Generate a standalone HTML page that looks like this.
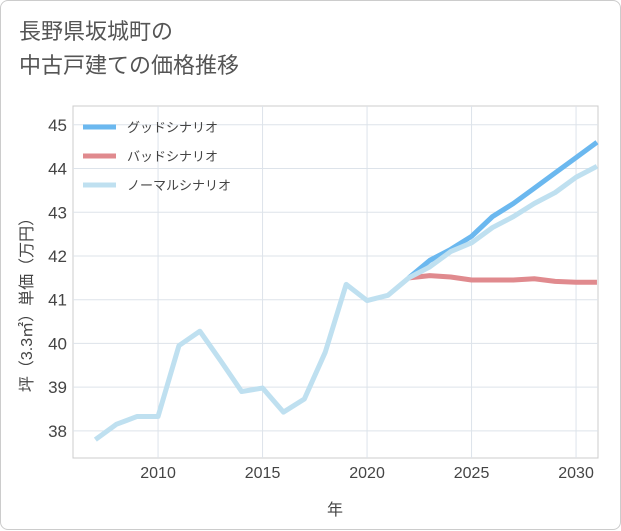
<!DOCTYPE html>
<html><head><meta charset="utf-8"><style>
body{margin:0;background:#fff;font-family:"Liberation Sans","Noto Sans CJK JP",sans-serif}
.wrap{position:absolute;left:0;top:0;width:619px;height:528px;border:1px solid #ccc;border-radius:8px;background:#fff}
.title{position:absolute;left:18px;top:14px;font-size:22px;line-height:34px;color:#555}
</style></head><body>
<div class="wrap">
<div class="title">長野県坂城町の<br>中古戸建ての価格推移</div>
<svg id="chart" width="621" height="530" style="position:absolute;left:0;top:0"></svg>
</div>
<script>
const years=[2007,2008,2009,2010,2011,2012,2013,2014,2015,2016,2017,2018,2019,2020,2021,2022,2023,2024,2025,2026,2027,2028,2029,2030,2031];
const normal=[37.8,38.15,38.33,38.33,39.95,40.28,39.6,38.9,38.98,38.43,38.73,39.8,41.35,40.98,41.1,41.5,41.75,42.1,42.3,42.65,42.9,43.2,43.45,43.8,44.05];
const fYears=[2022,2023,2024,2025,2026,2027,2028,2029,2030,2031];
const good=[41.5,41.9,42.15,42.45,42.9,43.2,43.55,43.9,44.25,44.6];
const bad=[41.5,41.55,41.52,41.45,41.45,41.45,41.48,41.42,41.4,41.4];
const yTicks=[38,39,40,41,42,43,44,45];
const xTicks=[2010,2015,2020,2025,2030];
const L=72,R=597,T=105,B=457,x0=2005.93,x1=2031.05,y0=37.38,y1=45.43;
const X=v=>L+(v-x0)/(x1-x0)*(R-L), Y=v=>B-(v-y0)/(y1-y0)*(B-T);
const svg=document.getElementById('chart');const NS='http://www.w3.org/2000/svg';
function mk(t,a,txt){const e=document.createElementNS(NS,t);for(const k in a)e.setAttribute(k,a[k]);if(txt!=null)e.textContent=txt;svg.appendChild(e);return e;}
let e=mk('rect',{x:L,y:T,width:R-L,height:B-T,fill:'none',stroke:'#ccc'});


yTicks.forEach(v=>{let g=mk('line',{x1:L,x2:R,y1:Y(v),y2:Y(v),stroke:'#dde3ea'});


let t=mk('text',{x:L-6,y:Y(v)+6,'text-anchor':'end','font-size':17,fill:'#444'},v);

});
xTicks.forEach(v=>{let g=mk('line',{x1:X(v),x2:X(v),y1:T,y2:B,stroke:'#dde3ea'});


let t=mk('text',{x:X(v),y:B+20,'text-anchor':'middle','font-size':16,fill:'#444'},v);

});
function line(xs,ys,c,n){let p=mk('polyline',{points:xs.map((v,i)=>X(v)+','+Y(ys[i])).join(' '),fill:'none',stroke:c,'stroke-width':5,'stroke-linejoin':'round'});

}
line(fYears,good,'#6bb8ef','good-scenario-line');
line(fYears,bad,'#e08a8e','bad-scenario-line');
line(years,normal,'#bfe0f0','normal-scenario-line');
[['グッドシナリオ','#6bb8ef',126],['バッドシナリオ','#e08a8e',155],['ノーマルシナリオ','#bfe0f0',184]].forEach(d=>{
let l=mk('line',{x1:82,x2:115,y1:d[2],y2:d[2],stroke:d[1],'stroke-width':5});


let t=mk('text',{x:126,y:d[2]+5,'font-size':13,fill:'#444'},d[0]);

});
let xt=mk('text',{x:334,y:514,'text-anchor':'middle','font-size':16,fill:'#444'},'年');


let yt=mk('text',{x:0,y:0,'text-anchor':'middle','font-size':16,fill:'#444',transform:'translate(31,300) rotate(-90)'},'坪（3.3㎡）単価（万円）');


</script>
</body></html>
